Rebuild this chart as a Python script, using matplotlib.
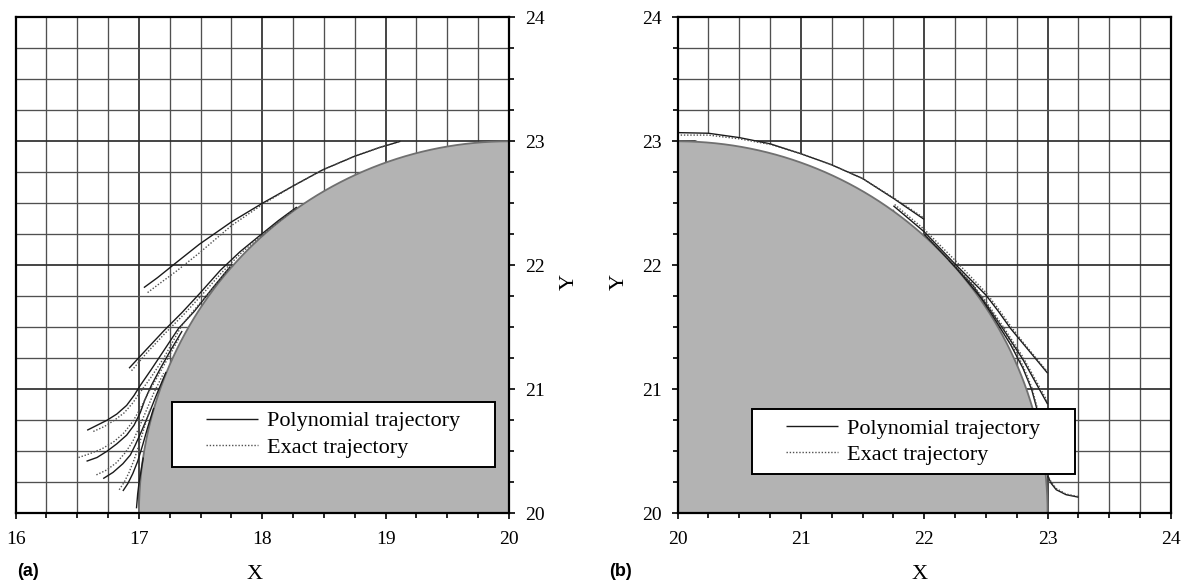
import numpy as np
import matplotlib
matplotlib.use("Agg")
import matplotlib.pyplot as plt
from matplotlib.patches import Rectangle
from matplotlib.lines import Line2D

plt.rcParams['font.family'] = ['Liberation Serif', 'DejaVu Serif']

# ---------------- data ----------------
CYL_CENTER = (20.0, 20.0)
CYL_RADIUS = 3.0

xlim_a = (16, 20)
xlim_b = (20, 24)
ylim = (20, 24)
xmajor_a = [16, 17, 18, 19, 20]
xmajor_b = [20, 21, 22, 23, 24]
ymajor = [20, 21, 22, 23, 24]
minor_step = 0.25

# panel (a) trajectories
A_poly_x = [17.04, 17.15, 17.30, 17.49, 17.75, 18.00, 18.25, 18.49, 18.75, 18.95, 19.12]
A_poly_y = [21.82, 21.90, 22.02, 22.17, 22.35, 22.50, 22.64, 22.77, 22.88, 22.95, 23.00]
A_exact_x = [17.07, 17.15, 17.30, 17.49, 17.75, 18.00, 18.25, 18.49, 18.75, 18.95, 19.12]
A_exact_y = [21.78, 21.84, 21.95, 22.10, 22.32, 22.49, 22.64, 22.77, 22.88, 22.95, 23.00]

B_poly_x = [16.92, 17.05, 17.20, 17.35, 17.49, 17.66, 17.82, 17.98, 18.13, 18.28]
B_poly_y = [21.17, 21.31, 21.47, 21.62, 21.77, 21.96, 22.11, 22.24, 22.36, 22.47]
B_exact_x = [16.94, 17.06, 17.21, 17.36, 17.50, 17.67, 17.83, 17.98, 18.13, 18.28]
B_exact_y = [21.15, 21.29, 21.45, 21.60, 21.75, 21.94, 22.10, 22.23, 22.35, 22.465]

C_poly_x = [16.58, 16.66, 16.74, 16.82, 16.90, 16.96, 17.01, 17.10, 17.20, 17.32, 17.45, 17.60, 17.74]
C_poly_y = [20.67, 20.71, 20.75, 20.80, 20.87, 20.95, 21.03, 21.16, 21.31, 21.49, 21.63, 21.82, 21.99]
C_exact_x = [16.63, 16.72, 16.80, 16.88, 16.95, 17.02, 17.10, 17.20, 17.35, 17.49, 17.62, 17.74]
C_exact_y = [20.66, 20.70, 20.75, 20.81, 20.89, 20.99, 21.10, 21.25, 21.52, 21.69, 21.84, 21.99]

D_poly_x = [16.575, 16.66, 16.74, 16.82, 16.90, 16.96, 17.01, 17.05, 17.10, 17.18, 17.26, 17.35]
D_poly_y = [20.42, 20.45, 20.50, 20.56, 20.63, 20.71, 20.81, 20.92, 21.03, 21.18, 21.32, 21.47]
D_exact_x = [16.51, 16.60, 16.70, 16.80, 16.88, 16.95, 17.02, 17.08, 17.15, 17.24, 17.33]
D_exact_y = [20.45, 20.48, 20.52, 20.58, 20.65, 20.74, 20.86, 20.98, 21.10, 21.26, 21.42]

E_poly_x = [16.71, 16.79, 16.87, 16.93, 16.97, 17.02, 17.08, 17.14, 17.22]
E_poly_y = [20.28, 20.33, 20.40, 20.47, 20.55, 20.66, 20.80, 20.95, 21.14]
E_exact_x = [16.655, 16.74, 16.82, 16.89, 16.95, 17.00, 17.06, 17.12, 17.20]
E_exact_y = [20.31, 20.35, 20.41, 20.49, 20.58, 20.69, 20.83, 20.97, 21.13]

F_poly_x = [16.87, 16.91, 16.95, 16.99, 17.03, 17.07, 17.12]
F_poly_y = [20.18, 20.24, 20.32, 20.42, 20.55, 20.69, 20.85]
F_exact_x = [16.84, 16.88, 16.92, 16.96, 17.00, 17.04, 17.09]
F_exact_y = [20.19, 20.25, 20.33, 20.43, 20.55, 20.68, 20.84]

G_poly_x = [16.98, 16.985, 16.99, 17.00, 17.015, 17.035]
G_poly_y = [20.04, 20.10, 20.16, 20.24, 20.33, 20.45]

# panel (b) trajectories
T_poly_x = [20.0, 20.25, 20.5, 20.75, 21.0, 21.25, 21.5, 21.75, 22.0]
T_poly_y = [23.07, 23.065, 23.03, 22.98, 22.90, 22.81, 22.70, 22.54, 22.37]
T_exact_x = [20.0, 20.25, 20.5, 20.75, 21.0, 21.25, 21.5, 21.75, 22.0]
T_exact_y = [23.05, 23.05, 23.02, 22.975, 22.90, 22.81, 22.70, 22.545, 22.38]

U1_poly_x = [21.75, 22.0, 22.25, 22.5, 22.6, 22.7, 22.8, 22.9, 23.0]
U1_poly_y = [22.48, 22.27, 22.01, 21.76, 21.63, 21.49, 21.37, 21.25, 21.13]
U1_exact_x = [21.76, 22.0, 22.25, 22.5, 22.6, 22.7, 22.8, 22.9, 23.0]
U1_exact_y = [22.49, 22.29, 22.04, 21.78, 21.65, 21.51, 21.38, 21.26, 21.14]

U2_poly_x = [22.0, 22.25, 22.5, 22.65, 22.8, 22.9, 23.0]
U2_poly_y = [22.25, 21.99, 21.69, 21.47, 21.24, 21.06, 20.88]
U2_exact_x = [22.0, 22.25, 22.5, 22.65, 22.8, 22.9, 23.0]
U2_exact_y = [22.26, 22.00, 21.71, 21.49, 21.26, 21.08, 20.90]

U3_poly_x = [22.2, 22.4, 22.55, 22.7, 22.8, 22.87, 22.93, 22.97, 23.0, 23.03, 23.07, 23.15, 23.25]
U3_poly_y = [22.04, 21.83, 21.60, 21.36, 21.17, 21.0, 20.78, 20.5, 20.30, 20.24, 20.19, 20.15, 20.13]
U3_exact_x = [22.2, 22.4, 22.55, 22.7, 22.8, 22.87, 22.93, 22.97, 23.0, 23.03, 23.07, 23.15, 23.25]
U3_exact_y = [22.05, 21.84, 21.62, 21.38, 21.19, 21.02, 20.80, 20.52, 20.31, 20.25, 20.20, 20.155, 20.135]

legend_labels = ['Polynomial trajectory', 'Exact trajectory']

# ---------------- styling ----------------
POLY = dict(color='#1a1a1a', lw=1.0, ls='-', zorder=3, solid_capstyle='butt')
EXACT = dict(color='#505050', lw=1.0, ls=(0, (1.0, 1.3)), zorder=3)
FILL = '#b3b3b3'
EDGE = '#707070'

fig = plt.figure(figsize=(11.88, 5.83), dpi=100)
W, H = 1188.0, 583.0
axA = fig.add_axes([15.6 / W, (H - 513.3) / H, 493.4 / W, 496 / H])
axB = fig.add_axes([677.5 / W, (H - 513.3) / H, 493.5 / W, 496 / H])


def setup(ax, xlim, xmajor, right):
    ax.set_xlim(*xlim)
    ax.set_ylim(*ylim)
    ax.set_xticks(xmajor)
    ax.set_yticks(ymajor)
    ax.set_xticks(np.arange(xlim[0], xlim[1] + 1e-9, minor_step), minor=True)
    ax.set_yticks(np.arange(ylim[0], ylim[1] + 1e-9, minor_step), minor=True)
    ax.grid(which='minor', color='#505050', lw=0.95)
    ax.grid(which='major', color='#2e2e2e', lw=1.25)
    ax.set_axisbelow(True)
    for s in ax.spines.values():
        s.set_linewidth(1.6)
        s.set_color('black')
        s.set_zorder(6)
    ax.tick_params(which='both', direction='out', width=1.2, top=False,
                   labelsize=14, colors='black')
    ax.tick_params(which='major', length=4.5)
    ax.tick_params(which='minor', length=3.5)
    ax.tick_params(axis='x', pad=8)
    ax.tick_params(axis='y', pad=7)
    if right:
        ax.yaxis.tick_right()
        ax.tick_params(axis='y', which='both', left=False, right=True,
                       labelleft=False, labelright=True)
    ax.set_xticklabels([str(v) for v in xmajor])
    ax.set_yticklabels([str(v) for v in ymajor])


setup(axA, xlim_a, xmajor_a, True)
setup(axB, xlim_b, xmajor_b, False)


def arc(theta0, theta1, n=200):
    t = np.linspace(np.radians(theta0), np.radians(theta1), n)
    return CYL_CENTER[0] + CYL_RADIUS * np.cos(t), CYL_CENTER[1] + CYL_RADIUS * np.sin(t)


# cylinder in panel (a): quarter 90..180 deg
ax_, ay_ = arc(90, 180)
axA.fill(np.r_[ax_, CYL_CENTER[0]], np.r_[ay_, CYL_CENTER[1]], color=FILL, lw=0, zorder=1)
axA.plot(ax_, ay_, color=EDGE, lw=1.3, zorder=2)

# cylinder in panel (b): quarter 0..90 deg
bx_, by_ = arc(0, 90)
# white strip between top trajectory and the cylinder (hides the grid)
tx = np.array(T_poly_x)
ty = np.array(T_poly_y)
theta_end = np.degrees(np.arccos((tx[-1] - CYL_CENTER[0]) / CYL_RADIUS))
sx, sy = arc(theta_end, 90)
axB.fill(np.r_[tx, sx[::-1]], np.r_[ty, sy[::-1]], color='white', lw=0, zorder=0.9)
axB.fill(np.r_[bx_, CYL_CENTER[0]], np.r_[by_, CYL_CENTER[1]], color=FILL, lw=0, zorder=1)
axB.plot(bx_, by_, color=EDGE, lw=1.3, zorder=2)

# trajectories (a)
for px, py in [(A_poly_x, A_poly_y), (B_poly_x, B_poly_y), (C_poly_x, C_poly_y),
               (D_poly_x, D_poly_y), (E_poly_x, E_poly_y), (F_poly_x, F_poly_y),
               (G_poly_x, G_poly_y)]:
    axA.plot(px, py, **POLY)
for ex, ey in [(A_exact_x, A_exact_y), (B_exact_x, B_exact_y), (C_exact_x, C_exact_y),
               (D_exact_x, D_exact_y), (E_exact_x, E_exact_y), (F_exact_x, F_exact_y)]:
    axA.plot(ex, ey, **EXACT)

# trajectories (b)
for px, py in [(T_poly_x, T_poly_y), (U1_poly_x, U1_poly_y), (U2_poly_x, U2_poly_y),
               (U3_poly_x, U3_poly_y)]:
    axB.plot(px, py, **POLY)
for ex, ey in [(T_exact_x, T_exact_y), (U1_exact_x, U1_exact_y), (U2_exact_x, U2_exact_y),
               (U3_exact_x, U3_exact_y)]:
    axB.plot(ex, ey, **EXACT)

# legends
handles = [Line2D([], [], **POLY), Line2D([], [], **EXACT)]


def add_legend(ax, x0, y0, x1, y1):
    ax.add_patch(Rectangle((x0, y0), x1 - x0, y1 - y0, transform=ax.transAxes,
                           facecolor='white', edgecolor='black', lw=1.4, zorder=7))
    leg = ax.legend(handles, legend_labels, loc='center',
                    bbox_to_anchor=((x0 + x1) / 2, (y0 + y1) / 2),
                    frameon=False, fontsize=16, handlelength=2.35,
                    handletextpad=0.4, labelspacing=0.25, borderpad=0.2)
    leg.set_zorder(8)


add_legend(axA, 0.316, 0.094, 0.971, 0.225)
add_legend(axB, 0.150, 0.079, 0.805, 0.210)

# axis labels
for ax, xl_x, yl_x in [(axA, 0.485, 1.1216), (axB, 0.491, -0.1185)]:
    ax.set_xlabel('X', fontsize=16)
    ax.set_ylabel('Y', fontsize=16, rotation=90)
    ax.xaxis.set_label_coords(xl_x, -0.124)
    ax.yaxis.set_label_coords(yl_x, 0.467)
    ax.xaxis.label.set(va='center', ha='center')
    ax.yaxis.label.set(va='center', ha='center', rotation_mode='default')
axA.yaxis.set_label_position('right')
axA.yaxis.set_label_coords(1.1216, 0.467)
axA.yaxis.label.set(va='center', ha='center', rotation=90, rotation_mode='default')

fig.text(28 / W, 1 - 571 / H, '(a)', family=['Liberation Sans', 'DejaVu Sans'],
         fontweight='bold', fontsize=13, ha='center', va='center')
fig.text(621 / W, 1 - 571 / H, '(b)', family=['Liberation Sans', 'DejaVu Sans'],
         fontweight='bold', fontsize=13, ha='center', va='center')

fig.savefig('out.png', dpi=100)
